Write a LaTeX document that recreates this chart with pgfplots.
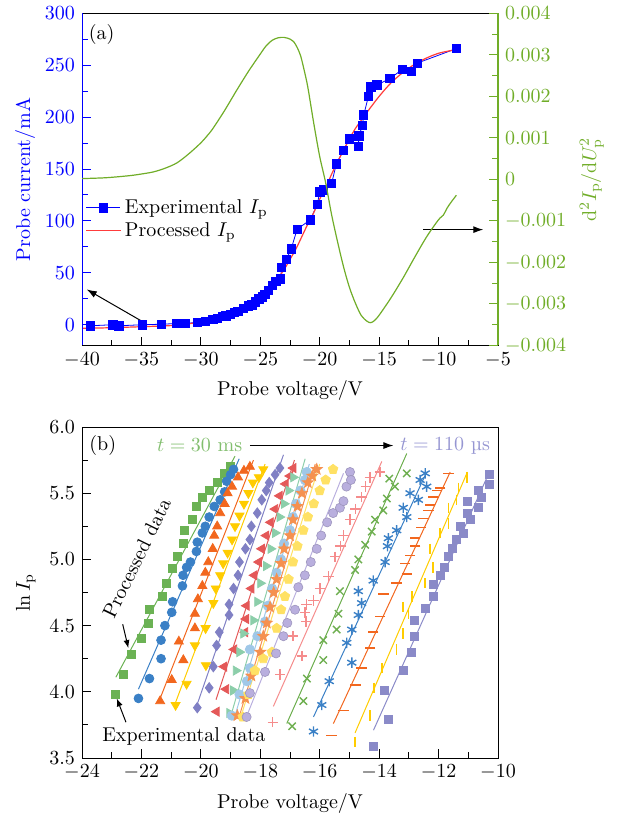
\documentclass[border=0pt]{standalone}
\usepackage{fontspec}
\usepackage{pgfplots}
\pgfplotsset{compat=1.18}
\usetikzlibrary{arrows.meta}

% colours
\definecolor{expblue}{RGB}{0,0,255}
\definecolor{procred}{RGB}{255,60,60}
\definecolor{dgreen}{RGB}{112,173,40}
\definecolor{cA}{RGB}{107,178,84}
\definecolor{cB}{RGB}{58,128,198}
\definecolor{cC}{RGB}{242,103,30}
\definecolor{cD}{RGB}{255,204,0}
\definecolor{cE}{RGB}{128,128,196}
\definecolor{cF}{RGB}{228,88,88}
\definecolor{cG}{RGB}{140,206,170}
\definecolor{cH}{RGB}{160,200,232}
\definecolor{cI}{RGB}{245,145,80}
\definecolor{cJ}{RGB}{255,225,100}
\definecolor{cK}{RGB}{185,175,222}
\definecolor{cL}{RGB}{245,140,140}
\definecolor{cM}{RGB}{110,175,80}
\definecolor{cN}{RGB}{58,128,198}
\definecolor{cO}{RGB}{242,103,30}
\definecolor{cP}{RGB}{255,204,0}
\definecolor{cQ}{RGB}{138,138,200}
\definecolor{tgreen}{RGB}{130,190,110}
\definecolor{tlav}{RGB}{150,150,210}

% filled five-pointed star
\pgfdeclareplotmark{fstar}{%
  \pgfpathmoveto{\pgfpointpolar{90}{1.3\pgfplotmarksize}}%
  \pgfpathlineto{\pgfpointpolar{126}{0.55\pgfplotmarksize}}%
  \pgfpathlineto{\pgfpointpolar{162}{1.3\pgfplotmarksize}}%
  \pgfpathlineto{\pgfpointpolar{198}{0.55\pgfplotmarksize}}%
  \pgfpathlineto{\pgfpointpolar{234}{1.3\pgfplotmarksize}}%
  \pgfpathlineto{\pgfpointpolar{270}{0.55\pgfplotmarksize}}%
  \pgfpathlineto{\pgfpointpolar{306}{1.3\pgfplotmarksize}}%
  \pgfpathlineto{\pgfpointpolar{342}{0.55\pgfplotmarksize}}%
  \pgfpathlineto{\pgfpointpolar{18}{1.3\pgfplotmarksize}}%
  \pgfpathlineto{\pgfpointpolar{54}{0.55\pgfplotmarksize}}%
  \pgfpathclose
  \pgfusepathqfillstroke}

\pgfplotsset{
  every axis/.append style={scale only axis, tick align=inside,
    every tick/.style={line width=0.5pt}},
  fitline/.style={no marks, line width=0.5pt},
}

\begin{document}
\begin{tikzpicture}
\path[use as bounding box] (0,0) rectangle (308pt,407pt);

% ---------------- panel (a): probe current ----------------
\begin{axis}[
  name=top, at={(41pt,234.25pt)}, anchor=south west,
  width=208pt, height=166.1pt,
  xmin=-40, xmax=-5, ymin=-20, ymax=300,
  xtick={-40,-35,...,-5}, minor x tick num=1, xtick pos=bottom,
  ytick={0,50,...,300}, minor y tick num=1, ytick pos=left,
  ytick style={expblue}, minor y tick style={expblue},
  yticklabel style={text=expblue},
  xlabel={Probe voltage/V},
  ylabel={Probe current/mA}, ylabel style={text=expblue, yshift=-2pt},
  legend style={at={(axis cs:-39.9,127)}, anchor=north west, draw=none,
    fill=none, row sep=-1pt, inner sep=1pt},
  legend cell align=left,
]
\addplot[expblue, line width=0.4pt, mark=square*, mark size=2.1pt,
  mark options={solid}] coordinates {
(-39.3,-1) (-37.4,0) (-36.9,-1) (-34.9,0) (-33.3,0.5) (-32.0,1.2)
(-31.3,1.0) (-30.3,2.5) (-29.6,3.5) (-29.0,5) (-28.6,6) (-28.2,8)
(-27.9,8.5) (-27.5,10) (-27.2,12) (-26.9,13) (-26.4,16) (-26.0,18)
(-25.7,19) (-25.4,22) (-25.1,25) (-24.8,27) (-24.6,29) (-24.3,33)
(-24.0,38) (-23.7,42) (-23.3,44) (-23.2,55) (-22.8,63) (-22.4,73)
(-21.9,92) (-20.8,101) (-20.2,116) (-20.0,128) (-19.7,130) (-19.0,136)
(-18.6,155) (-18.0,168) (-17.5,179) (-16.75,172) (-16.7,182) (-16.4,192)
(-16.3,202) (-15.9,220) (-15.7,229) (-15.2,231) (-14.1,237) (-13.05,246)
(-12.3,244) (-11.8,252) (-8.5,266)
};
\addlegendentry{Experimental $I_\mathrm{p}$}
\addplot[procred, line width=0.6pt, smooth, no marks] coordinates {
(-40,-3.5) (-38,-3) (-36,-2.3) (-34,-1.5) (-32,-0.5) (-31,1) (-30,2.5)
(-29,5) (-28,8.5) (-27,13) (-26,19.5) (-25,27.5) (-24,38) (-23.5,45)
(-23,53) (-22.5,63) (-22,73) (-21.5,85) (-21,97) (-20.5,108) (-20,121)
(-19.5,132) (-19,145) (-18.5,157) (-18,168) (-17.5,179) (-17,189)
(-16.5,197) (-16,205) (-15,220) (-14,233) (-13,243) (-12,251) (-11,257)
(-10,261.5) (-9,264) (-8.5,265)
};
\addlegendentry{Processed $I_\mathrm{p}$}
\draw[expblue, line width=0.6pt] (rel axis cs:0,0) -- (rel axis cs:0,1);
\node[anchor=center] at (axis cs:-38.35,280) {(a)};
\draw[-{Latex[length=5pt,width=3.5pt]}, line width=0.5pt]
  (axis cs:-34.98,3.5) -- (axis cs:-39.6,34);
\draw[-{Latex[length=5pt,width=3.5pt]}, line width=0.5pt]
  (axis cs:-11.29,91.6) -- (axis cs:-6.24,91.6);
\end{axis}

% ---------------- panel (a): second derivative ----------------
\begin{axis}[
  at={(41pt,234.25pt)}, anchor=south west,
  width=208pt, height=166.1pt,
  xmin=-40, xmax=-5, ymin=-0.004, ymax=0.004,
  axis x line=none, axis y line*=right,
  y axis line style={dgreen, line width=0.8pt},
  ytick={-0.004,-0.003,-0.002,-0.001,0,0.001,0.002,0.003,0.004},
  yticklabels={$-0.004$,$-0.003$,$-0.002$,$-0.001$,$0$,$0.001$,$0.002$,$0.003$,$0.004$},
  minor y tick num=1, scaled y ticks=false,
  ytick style={dgreen}, minor y tick style={dgreen},
  yticklabel style={text=dgreen},
  ylabel={$\mathrm{d}^2I_\mathrm{p}/\mathrm{d}U_\mathrm{p}^2$},
  ylabel style={text=dgreen},
]
\addplot[dgreen, line width=0.6pt, smooth, no marks] coordinates {
(-40.0,0.00002) (-38,0.00004) (-36,0.00009) (-35,0.00013) (-34,0.00018)
(-33,0.00027) (-32,0.0004) (-31,0.00062) (-30,0.00088) (-29.5,0.00104)
(-29,0.00122) (-28,0.00166) (-27,0.00214) (-26,0.0026) (-25,0.00302)
(-24.5,0.00322) (-24,0.00335) (-23.5,0.00341) (-23,0.00342) (-22.5,0.00338)
(-22.2,0.00332) (-21.9,0.00318) (-21.6,0.00297) (-21.3,0.00262) (-21,0.00222)
(-20.5,0.00135) (-20,0.00055) (-19.5,-0.00008) (-19,-0.00085) (-18.5,-0.0015)
(-18,-0.0021) (-17.5,-0.0026) (-17,-0.00298) (-16.5,-0.00328) (-16,-0.00342)
(-15.7,-0.00345) (-15.4,-0.0034) (-15,-0.00327) (-14,-0.00285) (-13,-0.00238)
(-12,-0.00187) (-11,-0.00138) (-10,-0.00097) (-9.6,-0.00086) (-9.3,-0.0007)
(-9,-0.00057) (-8.5,-0.00038)
};
\end{axis}

% ---------------- panel (b): ln I versus probe voltage ----------------
\begin{axis}[
  at={(41pt,28pt)}, anchor=south west,
  width=208pt, height=165.5pt,
  xmin=-24, xmax=-10, ymin=3.5, ymax=6.0,
  xtick={-24,-22,...,-10}, minor x tick num=1, xtick pos=bottom,
  ytick={3.5,4.0,...,6.0}, minor y tick num=1, ytick pos=left,
  yticklabel style={/pgf/number format/fixed, /pgf/number format/fixed zerofill,
    /pgf/number format/precision=1},
  xlabel={Probe voltage/V},
  ylabel={$\ln I_\mathrm{p}$},
]
% fitted lines
\addplot[fitline, cA] coordinates {(-22.86,4.11) (-18.85,5.78)};
\addplot[fitline, cB] coordinates {(-22.10,4.02) (-18.71,5.76)};
\addplot[fitline, cC] coordinates {(-21.37,3.95) (-18.23,5.75)};
\addplot[fitline, cD] coordinates {(-20.85,3.92) (-17.84,5.72)};
\addplot[fitline, cE] coordinates {(-20.10,3.92) (-17.22,5.79)};
\addplot[fitline, cF] coordinates {(-19.49,3.94) (-16.85,5.75)};
\addplot[fitline, cG] coordinates {(-18.95,3.85) (-16.49,5.76)};
\addplot[fitline, cH] coordinates {(-18.85,3.82) (-16.35,5.72)};
\addplot[fitline, cI] coordinates {(-18.70,3.82) (-16.15,5.72)};
\addplot[fitline, cJ] coordinates {(-18.60,3.85) (-16.00,5.72)};
\addplot[fitline, cK] coordinates {(-18.45,3.82) (-15.20,5.65)};
\addplot[fitline, cL] coordinates {(-17.56,3.89) (-13.91,5.74)};
\addplot[fitline, cM] coordinates {(-17.11,3.76) (-13.07,5.80)};
\addplot[fitline, cN] coordinates {(-16.21,3.81) (-12.40,5.66)};
\addplot[fitline, cO] coordinates {(-15.54,3.76) (-11.61,5.66)};
\addplot[fitline, cP] coordinates {(-14.81,3.69) (-11.03,5.66)};
\addplot[fitline, cQ] coordinates {(-14.19,3.71) (-10.29,5.66)};
% measured points
\addplot[only marks, mark=square*, mark size=2pt, cA] coordinates {
(-22.86,3.98) (-22.62,4.13) (-22.35,4.28) (-22.0,4.40) (-21.75,4.52)
(-21.72,4.62) (-21.3,4.72) (-21.15,4.82) (-20.95,4.93) (-20.8,5.02)
(-20.6,5.12) (-20.55,5.22) (-20.3,5.30) (-20.15,5.40) (-19.95,5.47)
(-19.7,5.52) (-19.45,5.58) (-19.2,5.65) (-19.0,5.70)};
\addplot[only marks, mark=*, mark size=2.2pt, cB] coordinates {
(-22.10,3.95) (-21.73,4.10) (-21.34,4.25) (-21.34,4.39) (-21.21,4.50)
(-20.98,4.60) (-20.95,4.68) (-20.62,4.80) (-20.6,4.88) (-20.48,4.94)
(-20.35,4.98) (-20.15,5.06) (-20.12,5.13) (-19.95,5.20) (-19.85,5.25)
(-19.72,5.32) (-19.55,5.40) (-19.35,5.45) (-19.2,5.51) (-19.13,5.59)
(-19.0,5.64) (-18.9,5.68)};
\addplot[only marks, mark=triangle*, mark size=2.6pt, cC] coordinates {
(-21.37,3.93) (-20.98,4.09) (-20.59,4.24) (-20.74,4.38) (-20.20,4.48)
(-20.20,4.59) (-20.1,4.70) (-19.95,4.80) (-19.85,4.90) (-19.75,4.98)
(-19.6,5.08) (-19.55,5.18) (-19.45,5.25) (-19.35,5.35) (-19.2,5.42)
(-19.1,5.50) (-18.95,5.55) (-18.75,5.62) (-18.55,5.67) (-18.35,5.70)};
\addplot[only marks, mark=triangle*, mark size=2.6pt, mark options={rotate=180}, cD] coordinates {
(-20.85,3.90) (-20.48,4.06) (-19.83,4.20) (-20.2,4.35) (-19.84,4.48)
(-19.58,4.67) (-19.5,4.78) (-19.35,4.88) (-19.25,4.97) (-19.1,5.05)
(-18.95,5.15) (-18.85,5.25) (-18.7,5.33) (-18.55,5.42) (-18.4,5.50)
(-18.25,5.58) (-18.05,5.62) (-17.9,5.68)};
\addplot[only marks, mark=diamond*, mark size=2.6pt, cE] coordinates {
(-20.12,3.88) (-19.72,4.03) (-19.58,4.19) (-19.47,4.35) (-19.38,4.45)
(-19.05,4.58) (-19.05,4.66) (-18.9,4.78) (-18.75,4.88) (-18.7,4.98)
(-18.5,5.08) (-18.35,5.15) (-18.3,5.25) (-18.1,5.35) (-17.95,5.45)
(-17.8,5.52) (-17.7,5.58) (-17.5,5.64) (-17.34,5.69)};
\addplot[only marks, mark=triangle*, mark size=2.6pt, mark options={rotate=90}, cF] coordinates {
(-19.47,3.85) (-19.15,4.02) (-19.22,4.19) (-18.88,4.32) (-18.51,4.45)
(-18.48,4.55) (-18.46,4.65) (-18.3,4.78) (-18.2,4.88) (-18.05,4.98)
(-17.95,5.08) (-17.8,5.18) (-17.65,5.28) (-17.5,5.38) (-17.35,5.48)
(-17.15,5.57) (-17.0,5.63) (-16.89,5.69)};
\addplot[only marks, mark=triangle*, mark size=2.6pt, mark options={rotate=-90}, cG] coordinates {
(-19.04,3.84) (-18.91,4.01) (-18.82,4.16) (-18.7,4.30) (-18.57,4.44)
(-18.23,4.54) (-18.1,4.68) (-18.0,4.82) (-17.8,4.95) (-17.65,5.08)
(-17.5,5.20) (-17.35,5.32) (-17.2,5.42) (-17.05,5.52) (-16.89,5.62)};
\addplot[only marks, mark=*, mark size=2.3pt, cH] coordinates {
(-18.96,3.82) (-18.7,3.98) (-18.45,4.08) (-18.35,4.18) (-18.35,4.32)
(-18.1,4.42) (-17.84,4.53) (-17.75,4.65) (-17.6,4.78) (-17.45,4.90)
(-17.3,5.00) (-17.2,5.12) (-17.0,5.22) (-16.9,5.32) (-16.8,5.42)
(-16.65,5.52) (-16.5,5.60) (-16.44,5.66)};
\addplot[only marks, mark=fstar, mark size=2.2pt, cI] coordinates {
(-18.77,3.82) (-18.5,3.95) (-18.3,4.12) (-18.0,4.30) (-17.9,4.42)
(-17.78,4.52) (-17.67,4.64) (-17.55,4.75) (-17.45,4.85) (-17.3,4.97)
(-17.2,5.08) (-17.0,5.18) (-16.9,5.30) (-16.75,5.40) (-16.6,5.50)
(-16.4,5.58) (-16.25,5.63) (-16.1,5.68)};
\addplot[only marks, mark=pentagon*, mark size=2.5pt, cJ] coordinates {
(-18.59,3.81) (-18.4,3.98) (-18.18,4.16) (-17.9,4.25) (-17.61,4.30)
(-17.45,4.48) (-17.3,4.62) (-17.17,4.72) (-17.05,4.85) (-16.9,4.98)
(-16.75,5.10) (-16.55,5.22) (-16.4,5.32) (-16.2,5.42) (-16.0,5.52)
(-15.8,5.60) (-15.55,5.68)};
\addplot[only marks, mark=*, mark size=2.3pt, cK,
  mark options={fill=cK, draw=cK!85!black, line width=0.3pt}] coordinates {
(-18.46,3.81) (-18.35,3.99) (-17.84,4.15) (-17.47,4.29) (-17.22,4.42)
(-17.09,4.52) (-16.83,4.62) (-16.72,4.79) (-16.5,4.88) (-16.3,4.98)
(-16.1,5.08) (-15.95,5.18) (-15.75,5.28) (-15.55,5.35) (-15.32,5.39)
(-15.2,5.44) (-15.1,5.55) (-14.98,5.66) (-14.95,5.60)};
\addplot[only marks, mark=+, mark size=2.6pt, line width=0.7pt, cL] coordinates {
(-17.58,3.77) (-17.33,4.13) (-16.6,4.27) (-16.9,4.42) (-16.46,4.53)
(-16.49,4.60) (-16.44,4.66) (-16.21,4.69) (-15.99,4.78) (-15.71,4.87)
(-15.48,5.02) (-15.3,5.10) (-15.2,5.18) (-14.98,5.30) (-14.8,5.38)
(-14.59,5.47) (-14.45,5.55) (-14.31,5.62) (-13.97,5.66)};
\addplot[only marks, mark=x, mark size=2.6pt, line width=0.7pt, cM] coordinates {
(-16.93,3.74) (-16.55,3.93) (-16.43,4.10) (-15.88,4.24) (-15.88,4.39)
(-15.43,4.47) (-15.37,4.59) (-15.32,4.76) (-14.81,4.92) (-14.7,5.00)
(-14.47,5.11) (-14.25,5.21) (-14.14,5.30) (-13.86,5.37) (-13.74,5.46)
(-13.47,5.55) (-13.66,5.61) (-13.07,5.65)};
\addplot[only marks, mark=asterisk, mark size=2.6pt, line width=0.7pt, cN] coordinates {
(-16.21,3.70) (-15.93,3.90) (-15.68,4.08) (-14.92,4.22) (-15.09,4.37)
(-14.92,4.47) (-14.70,4.58) (-14.59,4.67) (-14.70,4.76) (-14.20,4.84)
(-13.80,4.98) (-13.72,5.10) (-13.69,5.16) (-13.41,5.22) (-13.07,5.32)
(-13.19,5.39) (-12.68,5.45) (-12.96,5.50) (-12.40,5.55) (-12.62,5.60)
(-12.45,5.65)};
\addplot[only marks, mark=-, mark size=2.6pt, line width=0.8pt, cO] coordinates {
(-15.6,3.67) (-15.2,3.86) (-14.8,4.05) (-14.6,4.18) (-14.31,4.33)
(-14.2,4.45) (-13.97,4.57) (-13.86,4.74) (-13.41,4.82) (-13.07,4.89)
(-13.13,4.97) (-12.96,5.03) (-12.79,5.10) (-12.79,5.16) (-12.6,5.24)
(-12.51,5.31) (-12.34,5.37) (-12.29,5.41) (-12.18,5.47) (-12.06,5.52)
(-11.95,5.54) (-11.67,5.65)};
\addplot[only marks, mark=|, mark size=2.6pt, line width=0.8pt, cP] coordinates {
(-14.81,3.62) (-14.31,3.82) (-14.17,4.03) (-13.91,4.18) (-13.41,4.32)
(-13.19,4.44) (-13.01,4.59) (-13.19,4.64) (-12.9,4.72) (-12.45,4.82)
(-12.18,4.94) (-12.29,5.08) (-11.95,5.20) (-11.67,5.27) (-11.67,5.39)
(-11.39,5.45) (-11.33,5.54) (-11.05,5.62)};
\addplot[only marks, mark=square*, mark size=2pt, cQ] coordinates {
(-14.19,3.59) (-13.69,3.79) (-13.82,4.01) (-13.19,4.16) (-12.93,4.30)
(-12.81,4.42) (-12.83,4.54) (-12.44,4.63) (-12.18,4.72) (-12.18,4.81)
(-11.93,4.88) (-11.82,4.94) (-11.67,5.02) (-11.52,5.08) (-11.41,5.15)
(-11.17,5.20) (-11.28,5.25) (-10.94,5.30) (-11.03,5.35) (-10.66,5.39)
(-11.03,5.44) (-10.55,5.47) (-10.66,5.52) (-10.29,5.57) (-10.29,5.64)};
% annotations
\node at (axis cs:-23.3,5.86) {(b)};
\node[text=tgreen] at (axis cs:-20.04,5.86) {$t=30$ ms};
\draw[-{Latex[length=5pt,width=3.5pt]}, line width=0.5pt]
  (axis cs:-18.35,5.86) -- (axis cs:-13.52,5.86);
\node[text=tlav] at (axis cs:-11.78,5.86) {$t=110$ µs};
\node[rotate=64] at (axis cs:-22.16,5.01) {Processed data};
\draw[-{Latex[length=4pt,width=3pt]}, line width=0.5pt]
  (axis cs:-22.63,4.51) -- (axis cs:-22.44,4.33);
\node at (axis cs:-20.57,3.66) {Experimental data};
\draw[-{Latex[length=4pt,width=3pt]}, line width=0.5pt]
  (axis cs:-22.52,3.77) -- (axis cs:-22.83,3.95);
\end{axis}
\end{tikzpicture}
\end{document}
